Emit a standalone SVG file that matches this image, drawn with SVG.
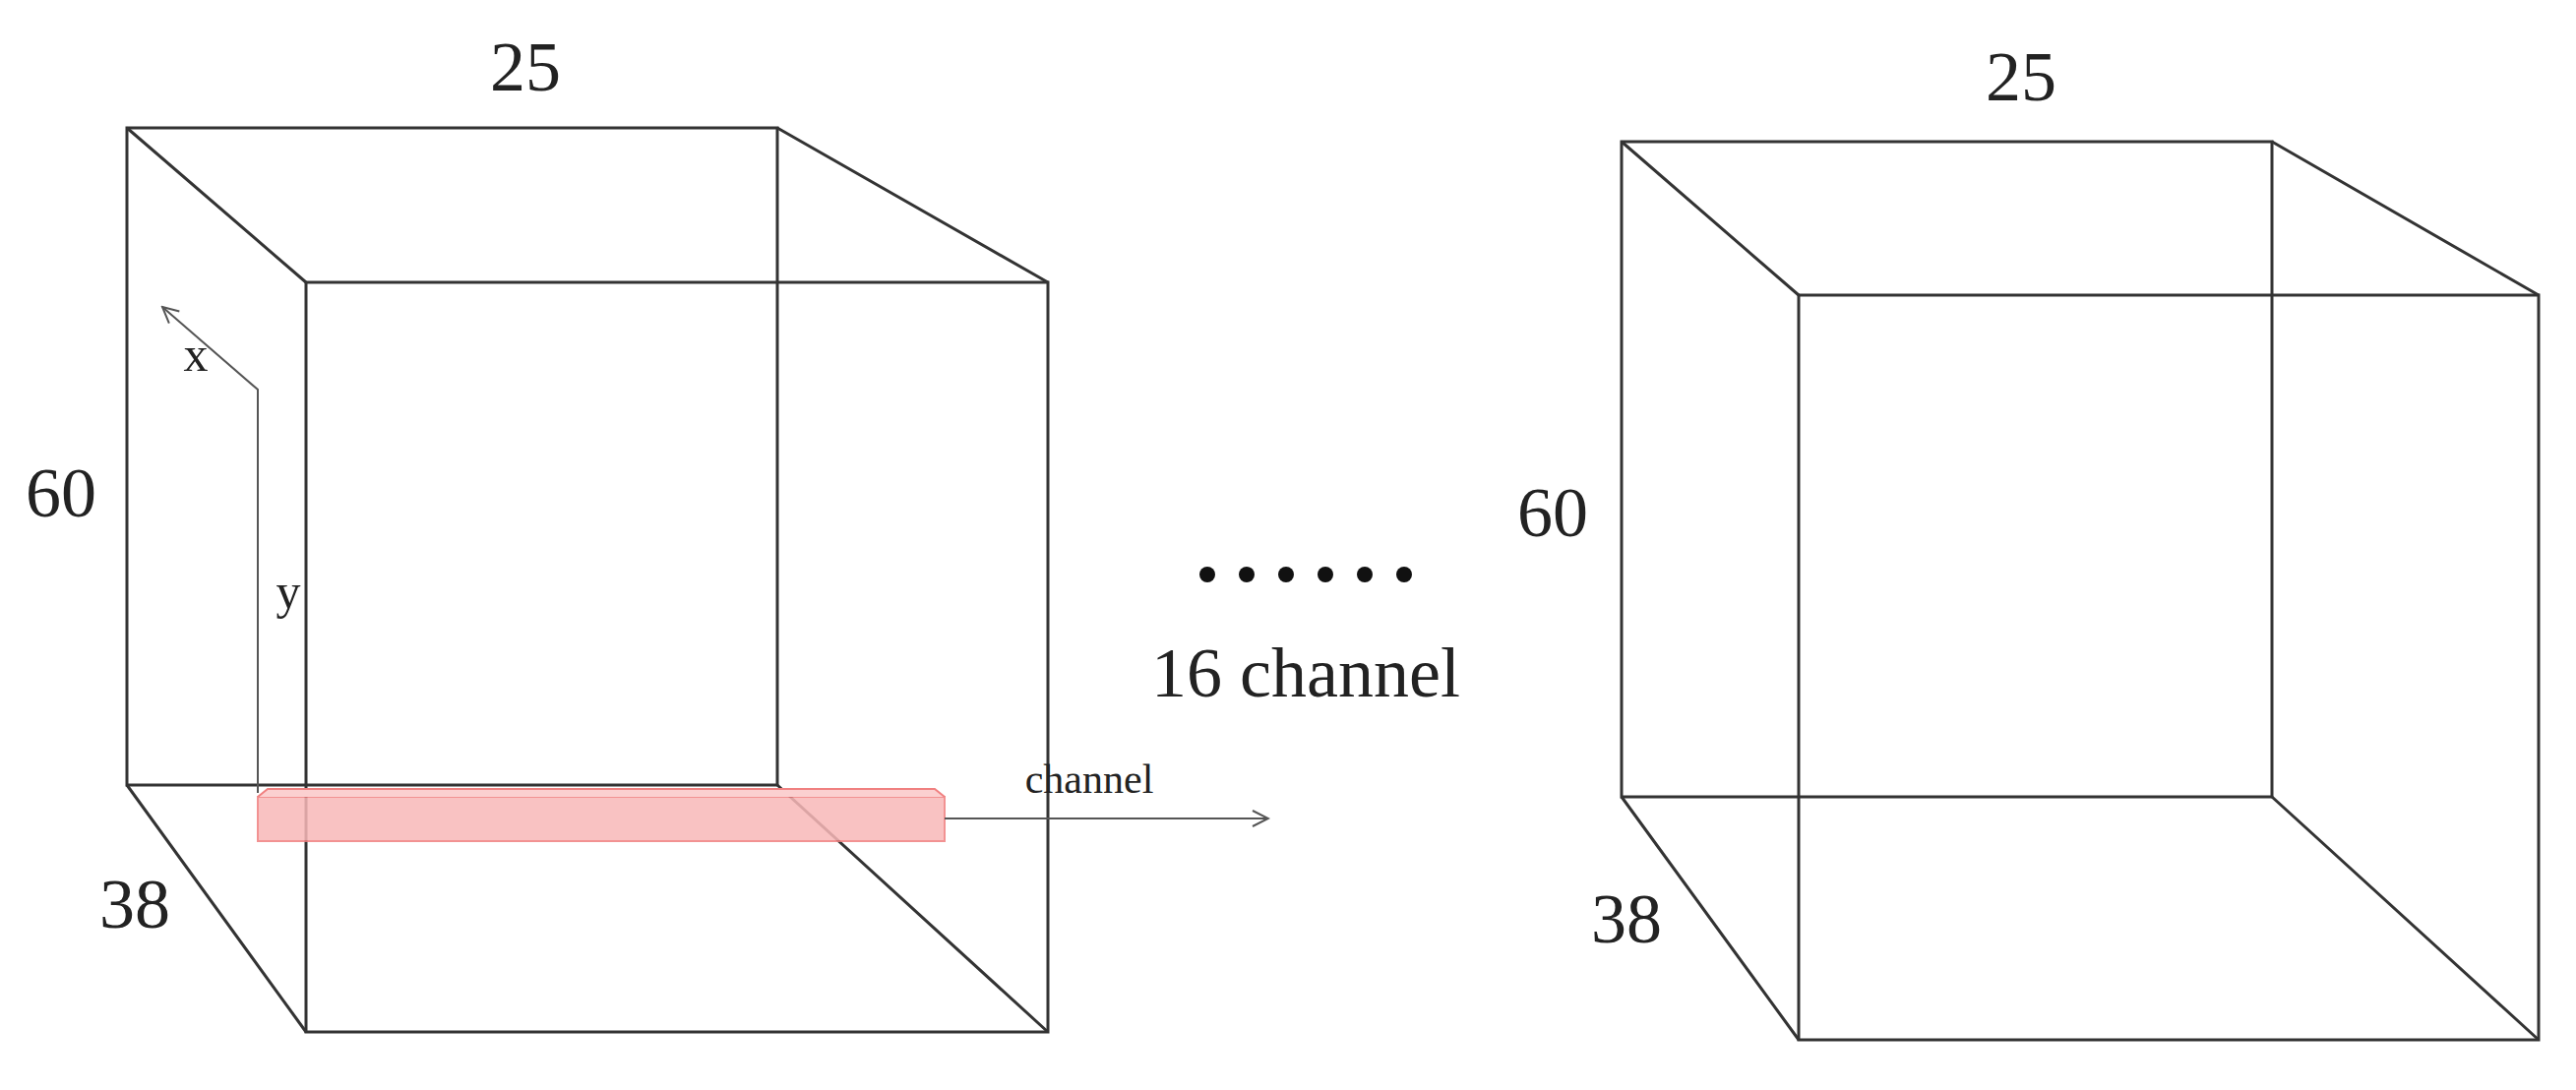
<svg xmlns="http://www.w3.org/2000/svg" width="2618" height="1108" viewBox="0 0 2618 1108">
<style>
.e{stroke:#333;stroke-width:3;fill:none}
.t{font-family:"Liberation Serif",serif;fill:#222;text-anchor:middle}
.a{stroke:#555;stroke-width:2;fill:none}
</style>
<defs><marker id="ar" markerWidth="20" markerHeight="20" refX="18" refY="10" orient="auto" markerUnits="userSpaceOnUse"><path d="M2,2 L18,10 L2,18" fill="none" stroke="#555" stroke-width="2"/></marker></defs>
<rect width="2618" height="1108" fill="#fff"/>
<g id="cube1">
<rect class="e" x="129" y="130" width="661" height="668"/>
<rect class="e" x="311" y="287" width="754" height="762"/>
<path class="e" d="M129,130L311,287M790,130L1065,287M129,798L311,1049M790,798L1065,1049"/>
<text class="t" x="534" y="92" font-size="72">25</text>
<text class="t" x="62" y="525" font-size="72">60</text>
<text class="t" x="137" y="943" font-size="72">38</text>
</g>
<g id="channelbar">
<rect x="262" y="810" width="698" height="45" fill="#f9b8b8" stroke="#f08080" stroke-width="2" opacity="0.85"/>
<path d="M262,810L272,802L950,802L960,810" fill="#fbd0d0" stroke="#f08080" stroke-width="2"/>
<text class="t" x="1107" y="806" font-size="42">channel</text>
</g>
<g id="connectors">
<path class="a" d="M262,806V396L165,312" marker-end="url(#ar)"/>
<line class="a" x1="960" y1="832" x2="1289" y2="832" marker-end="url(#ar)"/>
</g>
<g id="axislabels">
<text class="t" x="199" y="377" font-size="50">x</text>
<text class="t" x="293" y="618" font-size="50">y</text>
</g>
<g id="dots" fill="#111">
<circle cx="1227" cy="584" r="8"/><circle cx="1267" cy="584" r="8"/><circle cx="1307" cy="584" r="8"/><circle cx="1347" cy="584" r="8"/><circle cx="1387" cy="584" r="8"/><circle cx="1427" cy="584" r="8"/>
<text class="t" x="1327" y="708" font-size="72">16 channel</text>
</g>
<g id="cube2">
<rect class="e" x="1648" y="144" width="661" height="666"/>
<rect class="e" x="1828" y="300" width="752" height="757"/>
<path class="e" d="M1648,144L1828,300M2309,144L2580,300M1648,810L1828,1057M2309,810L2580,1057"/>
<text class="t" x="2054" y="102" font-size="72">25</text>
<text class="t" x="1578" y="545" font-size="72">60</text>
<text class="t" x="1653" y="958" font-size="72">38</text>
</g>
</svg>
